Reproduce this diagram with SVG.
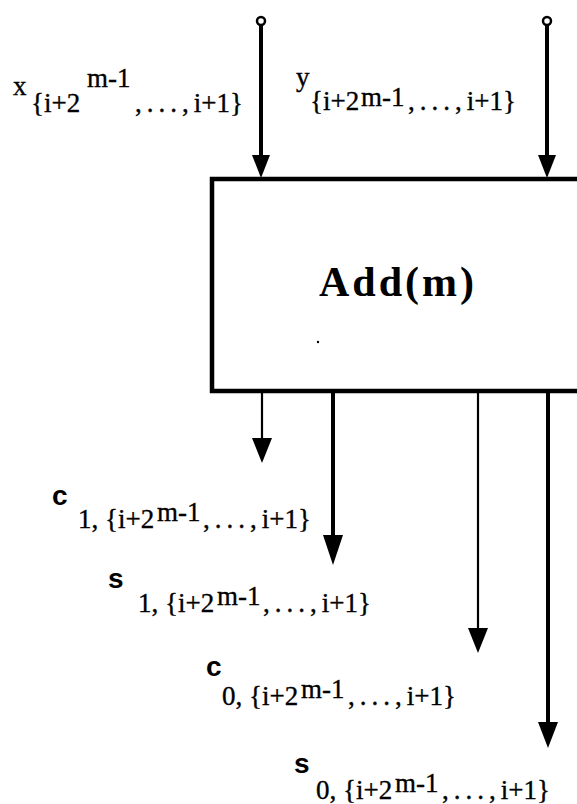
<svg xmlns="http://www.w3.org/2000/svg" width="577" height="804" viewBox="0 0 577 804">
<style>
.t{font-family:"Liberation Serif","Times New Roman",serif;font-size:27px;fill:#000;stroke:#000;stroke-width:0.35}
.s{font-family:"Liberation Sans",Arial,sans-serif;font-size:28px;font-weight:bold;fill:#000}
.d{letter-spacing:5px}
.thick{stroke:#000;stroke-width:4;fill:none}
.thin{stroke:#000;stroke-width:2.2;fill:none}
.head{fill:#000}
.term{fill:#fff;stroke:#000;stroke-width:2.5}
</style>
<rect width="577" height="804" fill="#fff"/>
<g id="adder">
<rect x="212" y="179" width="400" height="212" fill="#fff" stroke="#000" stroke-width="4.5"/>
<text x="398" y="296" text-anchor="middle" font-family="Liberation Serif, Times New Roman, serif" font-size="42" font-weight="bold" letter-spacing="3">Add(m)</text>
<circle cx="318" cy="342" r="1.2" fill="#000"/>
</g>
<g id="connectors">
<line class="thick" x1="261" y1="25" x2="261" y2="160"/>
<circle class="term" cx="261" cy="21" r="4"/>
<polygon class="head" points="252,155 270,155 261,178"/>
<line class="thick" x1="547" y1="25" x2="547" y2="160"/>
<circle class="term" cx="547" cy="21" r="4"/>
<polygon class="head" points="538,155 556,155 547,178"/>
<line class="thin" x1="262" y1="391" x2="262" y2="441"/>
<polygon class="head" points="252,438 272,438 262,463"/>
<line class="thick" x1="333" y1="391" x2="333" y2="538"/>
<polygon class="head" points="323,535 343,535 333,565"/>
<line class="thin" x1="478" y1="391" x2="478" y2="631"/>
<polygon class="head" points="468,628 488,628 478,653"/>
<line class="thick" x1="548" y1="391" x2="548" y2="725"/>
<polygon class="head" points="538,722 558,722 548,748"/>
</g>
<g id="label-x">
<text class="t" x="13" y="95">x</text>
<text class="t" x="31" y="112">{i+2</text>
<text class="t" x="87" y="87">m-1</text>
<text class="t" x="135" y="112"><tspan class="d">,...,</tspan>i+1}</text>
</g>
<g id="label-y">
<text class="t" x="296" y="86">y</text>
<text class="t" x="310" y="110">{i+2</text>
<text class="t" x="361" y="106">m-1</text>
<text class="t" x="408" y="110"><tspan class="d">,...,</tspan>i+1}</text>
</g>
<g id="label-c1">
<text class="s" x="52" y="505">c</text>
<text class="t" x="78" y="528">1, {i+2</text>
<text class="t" x="157" y="521">m-1</text>
<text class="t" x="203" y="528"><tspan class="d">,...,</tspan>i+1}</text>
</g>
<g id="label-s1">
<text class="s" x="108" y="588">s</text>
<text class="t" x="138" y="612">1, {i+2</text>
<text class="t" x="217" y="605">m-1</text>
<text class="t" x="263" y="612"><tspan class="d">,...,</tspan>i+1}</text>
</g>
<g id="label-c0">
<text class="s" x="206" y="676">c</text>
<text class="t" x="222" y="705">0, {i+2</text>
<text class="t" x="301" y="698">m-1</text>
<text class="t" x="348" y="705"><tspan class="d">,...,</tspan>i+1}</text>
</g>
<g id="label-s0">
<text class="s" x="294" y="773">s</text>
<text class="t" x="316" y="799">0, {i+2</text>
<text class="t" x="395" y="792">m-1</text>
<text class="t" x="442" y="799"><tspan class="d">,...,</tspan>i+1}</text>
</g>
</svg>
